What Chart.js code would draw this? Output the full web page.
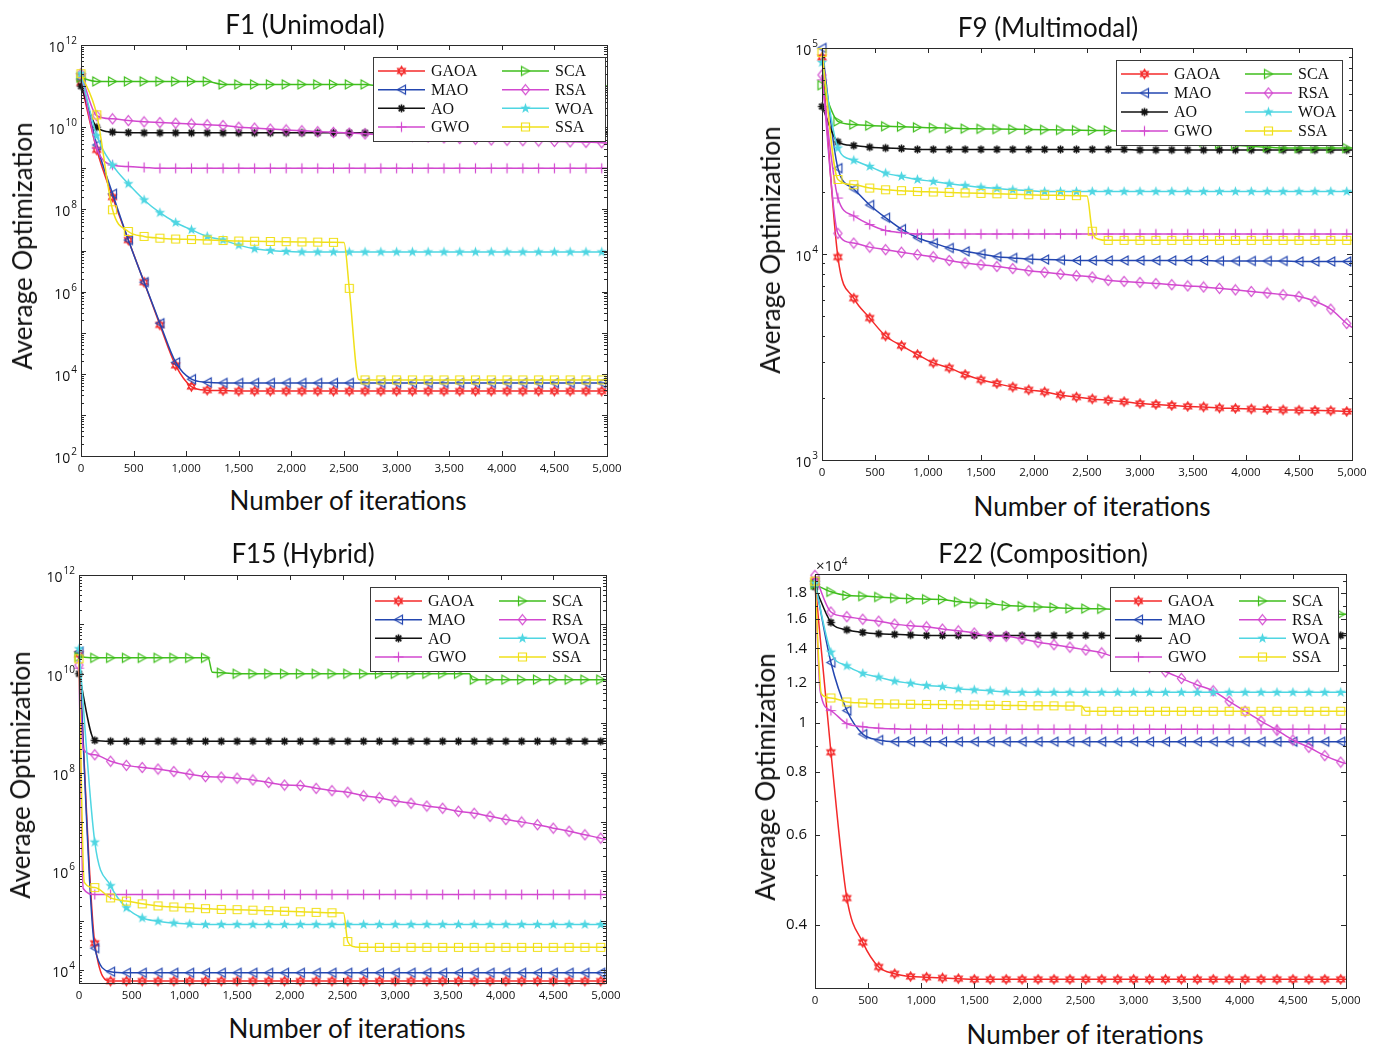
<!DOCTYPE html>
<html>
<head>
<meta charset="utf-8">
<script src="https://cdn.jsdelivr.net/npm/chart.js@4.4.1/dist/chart.umd.min.js"></script>
<style>
body { margin: 0; background: #fff; }
#page { position: relative; width: 1381px; height: 1048px; overflow: hidden; font-family: Lato, "Open Sans", sans-serif; }
#page canvas { position: absolute; }
.lbl { position: absolute; white-space: nowrap; color: #111; transform: translate(-50%, -50%); z-index: 2; }
.ylbl { transform: translate(-50%, -50%) rotate(-90deg); }
.mult { position: absolute; font-size: 15px; color: #222; z-index: 2; font-family: "Open Sans", sans-serif; }
.mult sup { font-size: 10px; }
</style>
</head>
<body>
<div id="page"></div>
<script>
// iteration grid (markers every 150 iterations, last point = 5000)
const iters = [0, 150, 300, 450, 600, 750, 900, 1050, 1200, 1350, 1500, 1650, 1800, 1950, 2100, 2250, 2400, 2550, 2700, 2850, 3000, 3150, 3300, 3450, 3600, 3750, 3900, 4050, 4200, 4350, 4500, 4650, 4800, 4950, 5000];
const names = ['GAOA', 'MAO', 'AO', 'GWO', 'SCA', 'RSA', 'WOA', 'SSA'];
const xTicks = [0, 500, 1000, 1500, 2000, 2500, 3000, 3500, 4000, 4500, 5000];

// F1 (Unimodal)
const f1GAOA = [1.2e11, 2.8e9, 2.0e8, 1.8e7, 1.7e6,
  1.55e5, 1.6e4, 4.9e3, 4.0e3, 3.9e3,
  3.8e3, 3.8e3, 3.8e3, 3.8e3, 3.8e3,
  3.8e3, 3.8e3, 3.8e3, 3.8e3, 3.8e3,
  3.8e3, 3.8e3, 3.8e3, 3.8e3, 3.8e3,
  3.8e3, 3.8e3, 3.8e3, 3.8e3, 3.8e3,
  3.8e3, 3.8e3, 3.8e3, 3.8e3, 3.8e3];
const f1MAO = [1.5e11, 3.7e9, 2.4e8, 1.8e7, 1.7e6,
  1.7e5, 1.9e4, 7.4e3, 6.2e3, 6.0e3,
  6.0e3, 6.0e3, 6.0e3, 6.0e3, 6.0e3,
  6.0e3, 6.0e3, 6.0e3, 6.0e3, 6.0e3,
  6.0e3, 6.0e3, 6.0e3, 6.0e3, 6.0e3,
  6.0e3, 6.0e3, 6.0e3, 6.0e3, 6.0e3,
  6.0e3, 6.0e3, 6.0e3, 6.0e3, 6.0e3];
const f1AO = [1.0e11, 1.0e10, 7.6e9, 7.4e9, 7.3e9,
  7.3e9, 7.3e9, 7.3e9, 7.3e9, 7.3e9,
  7.3e9, 7.3e9, 7.3e9, 7.3e9, 7.3e9,
  7.3e9, 7.3e9, 7.3e9, 7.3e9, 7.3e9,
  7.3e9, 7.3e9, 7.3e9, 7.3e9, 7.3e9,
  7.3e9, 7.3e9, 7.3e9, 7.3e9, 7.3e9,
  7.3e9, 7.3e9, 7.3e9, 7.3e9, 7.3e9];
const f1GWO = [2.0e11, 3.1e9, 1.2e9, 1.1e9, 1.05e9,
  1.0e9, 1.0e9, 1.0e9, 1.0e9, 1.0e9,
  1.0e9, 1.0e9, 1.0e9, 1.0e9, 1.0e9,
  1.0e9, 1.0e9, 1.0e9, 1.0e9, 1.0e9,
  1.0e9, 1.0e9, 1.0e9, 1.0e9, 1.0e9,
  1.0e9, 1.0e9, 1.0e9, 1.0e9, 1.0e9,
  1.0e9, 1.0e9, 1.0e9, 1.0e9, 1.0e9];
const f1SCA = [1.6e11, 1.3e11, 1.3e11, 1.3e11, 1.3e11,
  1.3e11, 1.3e11, 1.3e11, 1.3e11, 1.1e11,
  1.1e11, 1.1e11, 1.1e11, 1.1e11, 1.1e11,
  1.1e11, 1.1e11, 1.1e11, 1.1e11, 1.0e11,
  1.0e11, 1.0e11, 1.0e11, 1.0e11, 1.0e11,
  1.0e11, 1.0e11, 1.0e11, 1.0e11, 1.0e11,
  1.0e11, 1.0e11, 1.0e11, 1.0e11, 1.0e11];
const f1RSA = [2.0e11, 1.9e10, 1.6e10, 1.45e10, 1.35e10,
  1.3e10, 1.25e10, 1.2e10, 1.15e10, 1.1e10,
  1.0e10, 9.5e9, 9.0e9, 8.6e9, 8.2e9,
  7.8e9, 7.5e9, 7.2e9, 6.9e9, 6.6e9,
  6.4e9, 6.1e9, 5.8e9, 5.5e9, 5.3e9,
  5.1e9, 4.9e9, 4.8e9, 4.7e9, 4.6e9,
  4.5e9, 4.4e9, 4.3e9, 4.2e9, 4.1e9];
const f1WOA = [2.0e11, 6.2e9, 1.2e9, 4.2e8, 1.7e8,
  8.3e7, 4.8e7, 3.2e7, 2.2e7, 1.8e7,
  1.35e7, 1.1e7, 1.0e7, 9.5e6, 9.2e6,
  9.2e6, 9.2e6, 9.2e6, 9.2e6, 9.2e6,
  9.2e6, 9.2e6, 9.2e6, 9.2e6, 9.2e6,
  9.2e6, 9.2e6, 9.2e6, 9.2e6, 9.2e6,
  9.2e6, 9.2e6, 9.2e6, 9.2e6, 9.2e6];
const f1SSA = [2.0e11, 2.0e10, 9.8e7, 2.9e7, 2.2e7,
  2.0e7, 1.9e7, 1.85e7, 1.8e7, 1.75e7,
  1.7e7, 1.68e7, 1.66e7, 1.64e7, 1.62e7,
  1.6e7, 1.58e7, 1.2e6, 7.1e3, 7.1e3,
  7.1e3, 7.1e3, 7.1e3, 7.1e3, 7.1e3,
  7.1e3, 7.1e3, 7.1e3, 7.1e3, 7.1e3,
  7.1e3, 7.1e3, 7.1e3, 7.1e3, 7.1e3];
const f1SSASteps = [[2500, 1.56e7], [2640, 7.3e3]];

// F9 (Multimodal)
const f9GAOA = [9.0e4, 9.66e3, 6.1e3, 4.89e3, 4.0e3,
  3.59e3, 3.25e3, 2.96e3, 2.8e3, 2.6e3,
  2.45e3, 2.35e3, 2.26e3, 2.19e3, 2.14e3,
  2.07e3, 2.02e3, 1.98e3, 1.95e3, 1.92e3,
  1.88e3, 1.86e3, 1.84e3, 1.82e3, 1.81e3,
  1.79e3, 1.78e3, 1.77e3, 1.76e3, 1.75e3,
  1.745e3, 1.74e3, 1.735e3, 1.72e3, 1.72e3];
const f9MAO = [1.0e5, 2.61e4, 2.07e4, 1.73e4, 1.50e4,
  1.32e4, 1.20e4, 1.13e4, 1.07e4, 1.03e4,
  1.0e4, 9.7e3, 9.57e3, 9.45e3, 9.4e3,
  9.35e3, 9.3e3, 9.3e3, 9.3e3, 9.3e3,
  9.3e3, 9.3e3, 9.3e3, 9.3e3, 9.3e3,
  9.25e3, 9.25e3, 9.25e3, 9.25e3, 9.25e3,
  9.2e3, 9.2e3, 9.2e3, 9.2e3, 9.2e3];
const f9AO = [5.2e4, 3.5e4, 3.36e4, 3.3e4, 3.27e4,
  3.25e4, 3.22e4, 3.22e4, 3.22e4, 3.22e4,
  3.22e4, 3.22e4, 3.22e4, 3.22e4, 3.22e4,
  3.22e4, 3.22e4, 3.22e4, 3.22e4, 3.22e4,
  3.2e4, 3.2e4, 3.2e4, 3.2e4, 3.2e4,
  3.2e4, 3.2e4, 3.2e4, 3.2e4, 3.2e4,
  3.2e4, 3.2e4, 3.2e4, 3.2e4, 3.2e4];
const f9GWO = [7.0e4, 1.87e4, 1.53e4, 1.39e4, 1.30e4,
  1.27e4, 1.25e4, 1.25e4, 1.25e4, 1.25e4,
  1.25e4, 1.25e4, 1.25e4, 1.25e4, 1.25e4,
  1.25e4, 1.25e4, 1.25e4, 1.25e4, 1.25e4,
  1.25e4, 1.25e4, 1.25e4, 1.25e4, 1.25e4,
  1.25e4, 1.25e4, 1.25e4, 1.25e4, 1.25e4,
  1.25e4, 1.25e4, 1.25e4, 1.25e4, 1.25e4];
const f9SCA = [6.6e4, 4.4e4, 4.25e4, 4.2e4, 4.17e4,
  4.15e4, 4.12e4, 4.1e4, 4.08e4, 4.06e4,
  4.05e4, 4.04e4, 4.03e4, 4.02e4, 4.01e4,
  4.0e4, 3.99e4, 3.98e4, 3.98e4, 3.95e4,
  3.9e4, 3.8e4, 3.7e4, 3.6e4, 3.5e4,
  3.42e4, 3.37e4, 3.33e4, 3.3e4, 3.27e4,
  3.27e4, 3.27e4, 3.27e4, 3.27e4, 3.27e4];
const f9RSA = [7.4e4, 1.26e4, 1.13e4, 1.08e4, 1.05e4,
  1.02e4, 9.93e3, 9.7e3, 9.3e3, 9.04e3,
  8.87e3, 8.7e3, 8.5e3, 8.3e3, 8.15e3,
  8.0e3, 7.85e3, 7.73e3, 7.45e3, 7.36e3,
  7.28e3, 7.19e3, 7.1e3, 7.0e3, 6.92e3,
  6.81e3, 6.7e3, 6.58e3, 6.47e3, 6.35e3,
  6.22e3, 5.9e3, 5.4e3, 4.6e3, 4.4e3];
const f9WOA = [8.5e4, 3.27e4, 2.85e4, 2.66e4, 2.47e4,
  2.38e4, 2.3e4, 2.25e4, 2.19e4, 2.15e4,
  2.11e4, 2.08e4, 2.05e4, 2.03e4, 2.01e4,
  2.01e4, 2.01e4, 2.01e4, 2.01e4, 2.01e4,
  2.01e4, 2.01e4, 2.01e4, 2.01e4, 2.01e4,
  2.01e4, 2.01e4, 2.01e4, 2.01e4, 2.01e4,
  2.01e4, 2.01e4, 2.01e4, 2.01e4, 2.01e4];
const f9SSA = [9.5e4, 2.3e4, 2.17e4, 2.09e4, 2.05e4,
  2.03e4, 2.01e4, 2.0e4, 1.99e4, 1.98e4,
  1.97e4, 1.96e4, 1.95e4, 1.94e4, 1.93e4,
  1.925e4, 1.92e4, 1.29e4, 1.165e4, 1.165e4,
  1.165e4, 1.165e4, 1.165e4, 1.165e4, 1.165e4,
  1.165e4, 1.165e4, 1.165e4, 1.165e4, 1.165e4,
  1.165e4, 1.165e4, 1.165e4, 1.165e4, 1.165e4];
const f9SSASteps = [[2500, 1.91e4], [2610, 1.18e4]];

// F15 (Hybrid)
const f15GAOA = [2.5e10, 3.5e4, 6.0e3, 6.0e3, 6.0e3,
  6.0e3, 6.0e3, 6.0e3, 6.0e3, 6.0e3,
  6.0e3, 6.0e3, 6.0e3, 6.0e3, 6.0e3,
  6.0e3, 6.0e3, 6.0e3, 6.0e3, 6.0e3,
  6.0e3, 6.0e3, 6.0e3, 6.0e3, 6.0e3,
  6.0e3, 6.0e3, 6.0e3, 6.0e3, 6.0e3,
  6.0e3, 6.0e3, 6.0e3, 6.0e3, 6.0e3];
const f15MAO = [2.8e10, 2.8e4, 9.3e3, 8.85e3, 8.85e3,
  8.85e3, 8.85e3, 8.85e3, 8.85e3, 8.85e3,
  8.85e3, 8.85e3, 8.85e3, 8.85e3, 8.85e3,
  8.85e3, 8.85e3, 8.85e3, 8.85e3, 8.85e3,
  8.85e3, 8.85e3, 8.85e3, 8.85e3, 8.85e3,
  8.85e3, 8.85e3, 8.85e3, 8.85e3, 8.85e3,
  8.85e3, 8.85e3, 8.85e3, 8.85e3, 8.85e3];
const f15AO = [1.0e10, 4.5e8, 4.3e8, 4.3e8, 4.3e8,
  4.3e8, 4.3e8, 4.3e8, 4.3e8, 4.3e8,
  4.3e8, 4.3e8, 4.3e8, 4.3e8, 4.3e8,
  4.3e8, 4.3e8, 4.3e8, 4.3e8, 4.3e8,
  4.3e8, 4.3e8, 4.3e8, 4.3e8, 4.3e8,
  4.3e8, 4.3e8, 4.3e8, 4.3e8, 4.3e8,
  4.3e8, 4.3e8, 4.3e8, 4.3e8, 4.3e8];
const f15GWO = [1.3e10, 3.4e5, 3.4e5, 3.4e5, 3.4e5,
  3.4e5, 3.4e5, 3.4e5, 3.4e5, 3.4e5,
  3.4e5, 3.4e5, 3.4e5, 3.4e5, 3.4e5,
  3.4e5, 3.4e5, 3.4e5, 3.4e5, 3.4e5,
  3.4e5, 3.4e5, 3.4e5, 3.4e5, 3.4e5,
  3.4e5, 3.4e5, 3.4e5, 3.4e5, 3.4e5,
  3.4e5, 3.4e5, 3.4e5, 3.4e5, 3.4e5];
const f15GWOSteps = [[40, 4.5e5]];
const f15SCA = [2.2e10, 2.1e10, 2.1e10, 2.1e10, 2.1e10,
  2.1e10, 2.1e10, 2.1e10, 2.1e10, 1.05e10,
  1.0e10, 1.0e10, 1.0e10, 1.0e10, 1.0e10,
  1.0e10, 1.0e10, 1.0e10, 1.0e10, 1.0e10,
  1.0e10, 1.0e10, 1.0e10, 1.0e10, 1.0e10,
  7.6e9, 7.6e9, 7.6e9, 7.6e9, 7.6e9,
  7.6e9, 7.6e9, 7.6e9, 7.6e9, 7.6e9];
const f15SCASteps = [[1225, 2.1e10], [1265, 1.07e10], [3705, 1.0e10], [3735, 7.6e9]];
const f15RSA = [1.5e10, 2.3e8, 1.7e8, 1.4e8, 1.27e8,
  1.18e8, 1.05e8, 9.3e7, 8.3e7, 8.1e7,
  7.7e7, 7.1e7, 6.3e7, 5.6e7, 5.5e7,
  4.8e7, 4.3e7, 4.0e7, 3.4e7, 3.1e7,
  2.65e7, 2.4e7, 2.1e7, 1.9e7, 1.65e7,
  1.5e7, 1.3e7, 1.12e7, 1.0e7, 8.8e6,
  7.5e6, 6.5e6, 5.5e6, 4.7e6, 4.4e6];
const f15RSASteps = [[40, 3.0e8]];
const f15WOA = [3.2e10, 3.9e6, 5.1e5, 1.83e5, 1.14e5,
  9.8e4, 9.0e4, 8.6e4, 8.4e4, 8.4e4,
  8.4e4, 8.4e4, 8.4e4, 8.4e4, 8.4e4,
  8.4e4, 8.4e4, 8.4e4, 8.4e4, 8.4e4,
  8.4e4, 8.4e4, 8.4e4, 8.4e4, 8.4e4,
  8.4e4, 8.4e4, 8.4e4, 8.4e4, 8.4e4,
  8.4e4, 8.4e4, 8.4e4, 8.4e4, 8.4e4];
const f15SSA = [2.0e10, 4.7e5, 2.9e5, 2.5e5, 2.2e5,
  2.0e5, 1.9e5, 1.83e5, 1.76e5, 1.7e5,
  1.68e5, 1.64e5, 1.6e5, 1.56e5, 1.52e5,
  1.48e5, 1.45e5, 3.8e4, 2.9e4, 2.9e4,
  2.9e4, 2.9e4, 2.9e4, 2.9e4, 2.9e4,
  2.9e4, 2.9e4, 2.9e4, 2.9e4, 2.9e4,
  2.9e4, 2.9e4, 2.9e4, 2.9e4, 2.9e4];
const f15SSASteps = [[50, 6.0e5], [2510, 1.44e5], [2620, 2.95e4]];

// F22 (Composition), values in units of 10^4
const f22GAOA = [1.9, 0.874, 0.451, 0.369, 0.33,
  0.32, 0.316, 0.315, 0.314, 0.313,
  0.312, 0.312, 0.312, 0.312, 0.312,
  0.312, 0.312, 0.312, 0.312, 0.312,
  0.312, 0.312, 0.312, 0.312, 0.312,
  0.312, 0.312, 0.312, 0.312, 0.312,
  0.312, 0.312, 0.312, 0.312, 0.312];
const f22MAO = [1.9, 1.313, 1.056, 0.949, 0.924,
  0.917, 0.917, 0.917, 0.917, 0.917,
  0.917, 0.917, 0.917, 0.917, 0.917,
  0.917, 0.917, 0.917, 0.917, 0.917,
  0.917, 0.917, 0.917, 0.917, 0.917,
  0.917, 0.917, 0.917, 0.917, 0.917,
  0.917, 0.917, 0.917, 0.917, 0.917];
const f22AO = [1.85, 1.575, 1.523, 1.505, 1.496,
  1.492, 1.488, 1.485, 1.485, 1.485,
  1.485, 1.485, 1.485, 1.485, 1.485,
  1.485, 1.485, 1.485, 1.485, 1.485,
  1.485, 1.485, 1.485, 1.485, 1.485,
  1.485, 1.485, 1.485, 1.485, 1.485,
  1.485, 1.485, 1.485, 1.485, 1.485];
const f22GWO = [1.9, 1.056, 0.995, 0.981, 0.975,
  0.972, 0.97, 0.97, 0.97, 0.97,
  0.97, 0.97, 0.97, 0.97, 0.97,
  0.97, 0.97, 0.97, 0.97, 0.97,
  0.97, 0.97, 0.97, 0.97, 0.97,
  0.97, 0.97, 0.97, 0.97, 0.97,
  0.97, 0.97, 0.97, 0.97, 0.97];
const f22GWOSteps = [[50, 1.15]];
const f22SCA = [1.87, 1.81, 1.78, 1.775, 1.768,
  1.76, 1.755, 1.75, 1.747, 1.729,
  1.72, 1.715, 1.7, 1.695, 1.69,
  1.685, 1.679, 1.677, 1.675, 1.67,
  1.665, 1.662, 1.658, 1.655, 1.652,
  1.65, 1.647, 1.645, 1.643, 1.641,
  1.639, 1.637, 1.636, 1.635, 1.634];
const f22RSA = [1.95, 1.651, 1.617, 1.598, 1.584,
  1.563, 1.551, 1.544, 1.528, 1.516,
  1.501, 1.479, 1.479, 1.461, 1.44,
  1.424, 1.408, 1.39, 1.372, 1.34,
  1.31, 1.285, 1.259, 1.222, 1.186,
  1.155, 1.101, 1.053, 1.007, 0.966,
  0.924, 0.894, 0.861, 0.836, 0.83];
const f22WOA = [1.88, 1.376, 1.293, 1.25, 1.229,
  1.207, 1.195, 1.183, 1.177, 1.165,
  1.16, 1.155, 1.15, 1.147, 1.147,
  1.147, 1.147, 1.147, 1.147, 1.147,
  1.147, 1.147, 1.147, 1.147, 1.147,
  1.147, 1.147, 1.147, 1.147, 1.147,
  1.147, 1.147, 1.147, 1.147, 1.147];
const f22SSA = [1.9, 1.118, 1.098, 1.093, 1.089,
  1.088, 1.087, 1.086, 1.085, 1.084,
  1.083, 1.082, 1.081, 1.08, 1.079,
  1.079, 1.078, 1.053, 1.053, 1.053,
  1.053, 1.053, 1.053, 1.053, 1.053,
  1.053, 1.053, 1.053, 1.053, 1.053,
  1.053, 1.053, 1.053, 1.053, 1.053];
const f22SSASteps = [[60, 1.14], [2510, 1.078]];

// y tick values
const f1YTicks = [1e2, 1e4, 1e6, 1e8, 1e10, 1e12];
const f9YTicks = [1e3, 1e4, 1e5];
const f15YTicks = [1e4, 1e6, 1e8, 1e10, 1e12];
const f22YTicks = [0.4, 0.6, 0.8, 1, 1.2, 1.4, 1.6, 1.8];

// ---- styling ----
const colors = {
  GAOA: '#f42a2a', MAO: '#2346b0', AO: '#111111', GWO: '#d248cf',
  SCA: '#3fbe1c', RSA: '#d248cf', WOA: '#4fd6e2', SSA: '#f0e01a'
};

function makeMarker(kind, color) {
  const c = document.createElement('canvas');
  c.width = 13; c.height = 13;
  const g = c.getContext('2d');
  const m = 6.5;
  g.strokeStyle = color; g.fillStyle = color; g.lineWidth = 1.2;
  g.beginPath();
  if (kind === 'hex') {
    for (let t = 0; t < 2; t++) {
      for (let i = 0; i < 3; i++) {
        const a = -Math.PI / 2 + t * Math.PI + i * 2 * Math.PI / 3;
        const px = m + 4.6 * Math.cos(a), py = m + 4.6 * Math.sin(a);
        if (i === 0) g.moveTo(px, py); else g.lineTo(px, py);
      }
      g.closePath();
    }
    g.stroke();
  } else if (kind === 'left' || kind === 'right') {
    const d = kind === 'left' ? -1 : 1;
    g.moveTo(m + 4 * d, m); g.lineTo(m - 4 * d, m - 4.5); g.lineTo(m - 4 * d, m + 4.5); g.closePath();
    g.stroke();
  } else if (kind === 'ast') {
    g.lineWidth = 1.6;
    for (let i = 0; i < 4; i++) {
      const a = i * Math.PI / 4;
      g.moveTo(m - 4 * Math.cos(a), m - 4 * Math.sin(a));
      g.lineTo(m + 4 * Math.cos(a), m + 4 * Math.sin(a));
    }
    g.stroke();
  } else if (kind === 'plus') {
    g.moveTo(m - 5, m); g.lineTo(m + 5, m); g.moveTo(m, m - 5); g.lineTo(m, m + 5);
    g.stroke();
  } else if (kind === 'diamond') {
    g.moveTo(m, m - 5); g.lineTo(m + 4, m); g.lineTo(m, m + 5); g.lineTo(m - 4, m); g.closePath();
    g.stroke();
  } else if (kind === 'penta') {
    for (let i = 0; i < 10; i++) {
      const r = i % 2 === 0 ? 5.5 : 2.2;
      const a = -Math.PI / 2 + i * Math.PI / 5;
      if (i === 0) g.moveTo(m + r * Math.cos(a), m + r * Math.sin(a));
      else g.lineTo(m + r * Math.cos(a), m + r * Math.sin(a));
    }
    g.closePath();
    g.fill();
  } else if (kind === 'square') {
    g.rect(m - 4, m - 4, 8, 8);
    g.stroke();
  }
  return c;
}

const markerKinds = { GAOA: 'hex', MAO: 'left', AO: 'ast', GWO: 'plus', SCA: 'right', RSA: 'diamond', WOA: 'penta', SSA: 'square' };
const markers = {};
names.forEach(n => { markers[n] = makeMarker(markerKinds[n], colors[n]); });

function buildPoints(values, steps) {
  const pts = iters.map((x, i) => ({ x: x, y: values[i], m: x < 5000 }));
  (steps || []).forEach(s => pts.push({ x: s[0], y: s[1], m: false }));
  pts.sort((a, b) => a.x - b.x);
  return pts;
}

const panels = [
  {
    title: 'F1 (Unimodal)', area: [81, 45, 607, 456], ymin: 1e2, ymax: 1e12, yTicks: f1YTicks, yFmt: 'pow',
    legend: [373, 57, 232, 84], titleAt: [305, 24], xLabelAt: [348, 500], yLabelAt: [22, 246],
    series: { GAOA: [f1GAOA], MAO: [f1MAO], AO: [f1AO], GWO: [f1GWO], SCA: [f1SCA], RSA: [f1RSA], WOA: [f1WOA], SSA: [f1SSA, f1SSASteps] }
  },
  {
    title: 'F9 (Multimodal)', area: [822, 48, 1352, 460], ymin: 1e3, ymax: 1e5, yTicks: f9YTicks, yFmt: 'pow',
    legend: [1116, 60, 226, 85], titleAt: [1048, 27], xLabelAt: [1092, 506], yLabelAt: [770, 250],
    series: { GAOA: [f9GAOA], MAO: [f9MAO], AO: [f9AO], GWO: [f9GWO], SCA: [f9SCA], RSA: [f9RSA], WOA: [f9WOA], SSA: [f9SSA, f9SSASteps] }
  },
  {
    title: 'F15 (Hybrid)', area: [79, 575, 606, 983], ymin: Math.pow(10, 3.74), ymax: 1e12, yTicks: f15YTicks, yFmt: 'pow',
    legend: [370, 587, 230, 84], titleAt: [303, 553], xLabelAt: [347, 1028], yLabelAt: [20, 775],
    series: { GAOA: [f15GAOA], MAO: [f15MAO], AO: [f15AO], GWO: [f15GWO, f15GWOSteps], SCA: [f15SCA, f15SCASteps], RSA: [f15RSA, f15RSASteps], WOA: [f15WOA], SSA: [f15SSA, f15SSASteps] }
  },
  {
    title: 'F22 (Composition)', area: [815, 574, 1346, 988], ymin: 0.31, ymax: 1.962, yTicks: f22YTicks, yFmt: 'plain',
    legend: [1110, 587, 228, 84], titleAt: [1043, 553], xLabelAt: [1085, 1034], yLabelAt: [765, 777], mult: [816, 565],
    series: { GAOA: [f22GAOA], MAO: [f22MAO], AO: [f22AO], GWO: [f22GWO, f22GWOSteps], SCA: [f22SCA], RSA: [f22RSA], WOA: [f22WOA], SSA: [f22SSA, f22SSASteps] }
  }
];

const page = document.getElementById('page');
const L = 60, T = 14, R = 22, B = 24;

function addText(cls, text, at, size) {
  const d = document.createElement('div');
  d.className = cls;
  d.textContent = text;
  d.style.left = at[0] + 'px';
  d.style.top = at[1] + 'px';
  d.style.fontSize = size + 'px';
  page.appendChild(d);
}

function framePlugin(p, cx, cy) {
  return {
    id: 'frame',
    afterDatasetsDraw(chart) {
      const ctx = chart.ctx, a = chart.chartArea, xs = chart.scales.x, ys = chart.scales.y;
      ctx.save();
      ctx.strokeStyle = '#2a2a2a';
      ctx.lineWidth = 1;
      ctx.beginPath();
      // x ticks, inward on top and bottom
      xTicks.forEach(v => {
        const px = Math.round(xs.getPixelForValue(v)) + 0.5;
        ctx.moveTo(px, a.bottom); ctx.lineTo(px, a.bottom - 5);
        ctx.moveTo(px, a.top); ctx.lineTo(px, a.top + 5);
      });
      // y ticks, inward on left and right
      const yMarks = [];
      if (p.yFmt === 'pow') {
        for (let k = Math.floor(Math.log10(p.ymin)); k <= Math.ceil(Math.log10(p.ymax)); k++) {
          for (let mm = 1; mm <= 9; mm++) yMarks.push([mm * Math.pow(10, k), mm === 1 ? 5 : 3]);
        }
      } else {
        for (let v = 3; v <= 19; v++) yMarks.push([v / 10, v % 2 === 0 ? 5 : 3]);
      }
      yMarks.forEach(t => {
        if (t[0] < p.ymin || t[0] > p.ymax) return;
        const py = Math.round(ys.getPixelForValue(t[0])) + 0.5;
        ctx.moveTo(a.left, py); ctx.lineTo(a.left + t[1], py);
        ctx.moveTo(a.right, py); ctx.lineTo(a.right - t[1], py);
      });
      ctx.stroke();
      ctx.strokeRect(Math.round(a.left) + 0.5, Math.round(a.top) + 0.5, Math.round(a.right - a.left), Math.round(a.bottom - a.top));

      // y tick labels
      ctx.fillStyle = '#111';
      p.yTicks.forEach(v => {
        const py = ys.getPixelForValue(v);
        if (p.yFmt === 'pow') {
          const e = String(Math.round(Math.log10(v)));
          ctx.font = '10px "Open Sans", sans-serif';
          const ew = ctx.measureText(e).width;
          ctx.textAlign = 'right';
          ctx.textBaseline = 'alphabetic';
          ctx.fillText(e, a.left - 4, py - 1);
          ctx.font = '14px "Open Sans", sans-serif';
          ctx.fillText('10', a.left - 5 - ew, py + 7);
        } else {
          ctx.font = '15px "Open Sans", sans-serif';
          ctx.textAlign = 'right';
          ctx.textBaseline = 'middle';
          ctx.fillText(String(v), a.left - 8, py);
        }
      });

      // legend box (2 columns x 4 rows)
      const lx = p.legend[0] - cx, ly = p.legend[1] - cy, lw = p.legend[2], lh = p.legend[3];
      ctx.fillStyle = '#fff';
      ctx.fillRect(lx, ly, lw, lh);
      ctx.strokeStyle = '#3a3a3a';
      ctx.strokeRect(lx + 0.5, ly + 0.5, lw, lh);
      const rowGap = (lh - 28) / 3;
      names.forEach((n, i) => {
        const col = Math.floor(i / 4), row = i % 4;
        const x0 = lx + 5 + col * 124, yy = ly + 14 + row * rowGap;
        ctx.strokeStyle = colors[n];
        ctx.lineWidth = 1.5;
        ctx.beginPath(); ctx.moveTo(x0, yy); ctx.lineTo(x0 + 47, yy); ctx.stroke();
        const mk = markers[n];
        ctx.drawImage(mk, x0 + 23.5 - mk.width / 2, yy - mk.height / 2);
        ctx.fillStyle = '#111';
        ctx.font = '16px "Liberation Serif", serif';
        ctx.textAlign = 'left';
        ctx.textBaseline = 'middle';
        ctx.fillText(n, x0 + 53, yy + 1);
      });
      ctx.restore();
    }
  };
}

panels.forEach(p => {
  const [x0, y0, x1, y1] = p.area;
  const cx = x0 - L, cy = y0 - T;
  const canvas = document.createElement('canvas');
  canvas.width = L + (x1 - x0) + R;
  canvas.height = T + (y1 - y0) + B;
  canvas.style.left = cx + 'px';
  canvas.style.top = cy + 'px';
  page.appendChild(canvas);

  addText('lbl', p.title, p.titleAt, 26);
  addText('lbl', 'Number of iterations', p.xLabelAt, 26);
  addText('lbl ylbl', 'Average Optimization', p.yLabelAt, 26);
  if (p.mult) {
    const d = document.createElement('div');
    d.className = 'mult';
    d.innerHTML = '×10<sup>4</sup>';
    d.style.left = p.mult[0] + 'px';
    d.style.top = (p.mult[1] - 11) + 'px';
    page.appendChild(d);
  }

  const datasets = names.map((n, i) => {
    const s = p.series[n];
    return {
      label: n,
      data: buildPoints(s[0], s[1]),
      borderColor: colors[n],
      backgroundColor: colors[n],
      borderWidth: 1.5,
      pointStyle: markers[n],
      pointRadius: c => (c.raw && c.raw.m ? 5 : 0),
      pointHoverRadius: 0,
      cubicInterpolationMode: 'monotone',
      clip: false,
      fill: false,
      order: names.length - i
    };
  });

  new Chart(canvas.getContext('2d'), {
    type: 'line',
    data: { datasets: datasets },
    options: {
      responsive: false,
      animation: false,
      events: [],
      layout: { padding: { left: 0, top: T, right: R, bottom: 0 } },
      plugins: { legend: { display: false }, tooltip: { enabled: false } },
      scales: {
        x: {
          type: 'linear', min: 0, max: 5000,
          afterFit: s => { s.height = B; },
          afterBuildTicks: s => { s.ticks = xTicks.map(v => ({ value: v })); },
          grid: { display: false, drawTicks: false },
          border: { display: false },
          ticks: {
            padding: 6, color: '#111', maxRotation: 0, autoSkip: false,
            font: { family: '"Open Sans", sans-serif', size: 11.5 },
            callback: v => v.toLocaleString('en-US')
          }
        },
        y: {
          type: 'logarithmic', min: p.ymin, max: p.ymax,
          afterFit: s => { s.width = L; },
          grid: { display: false, drawTicks: false },
          border: { display: false },
          ticks: { display: false }
        }
      }
    },
    plugins: [framePlugin(p, cx, cy)]
  });
});
</script>
</body>
</html>
